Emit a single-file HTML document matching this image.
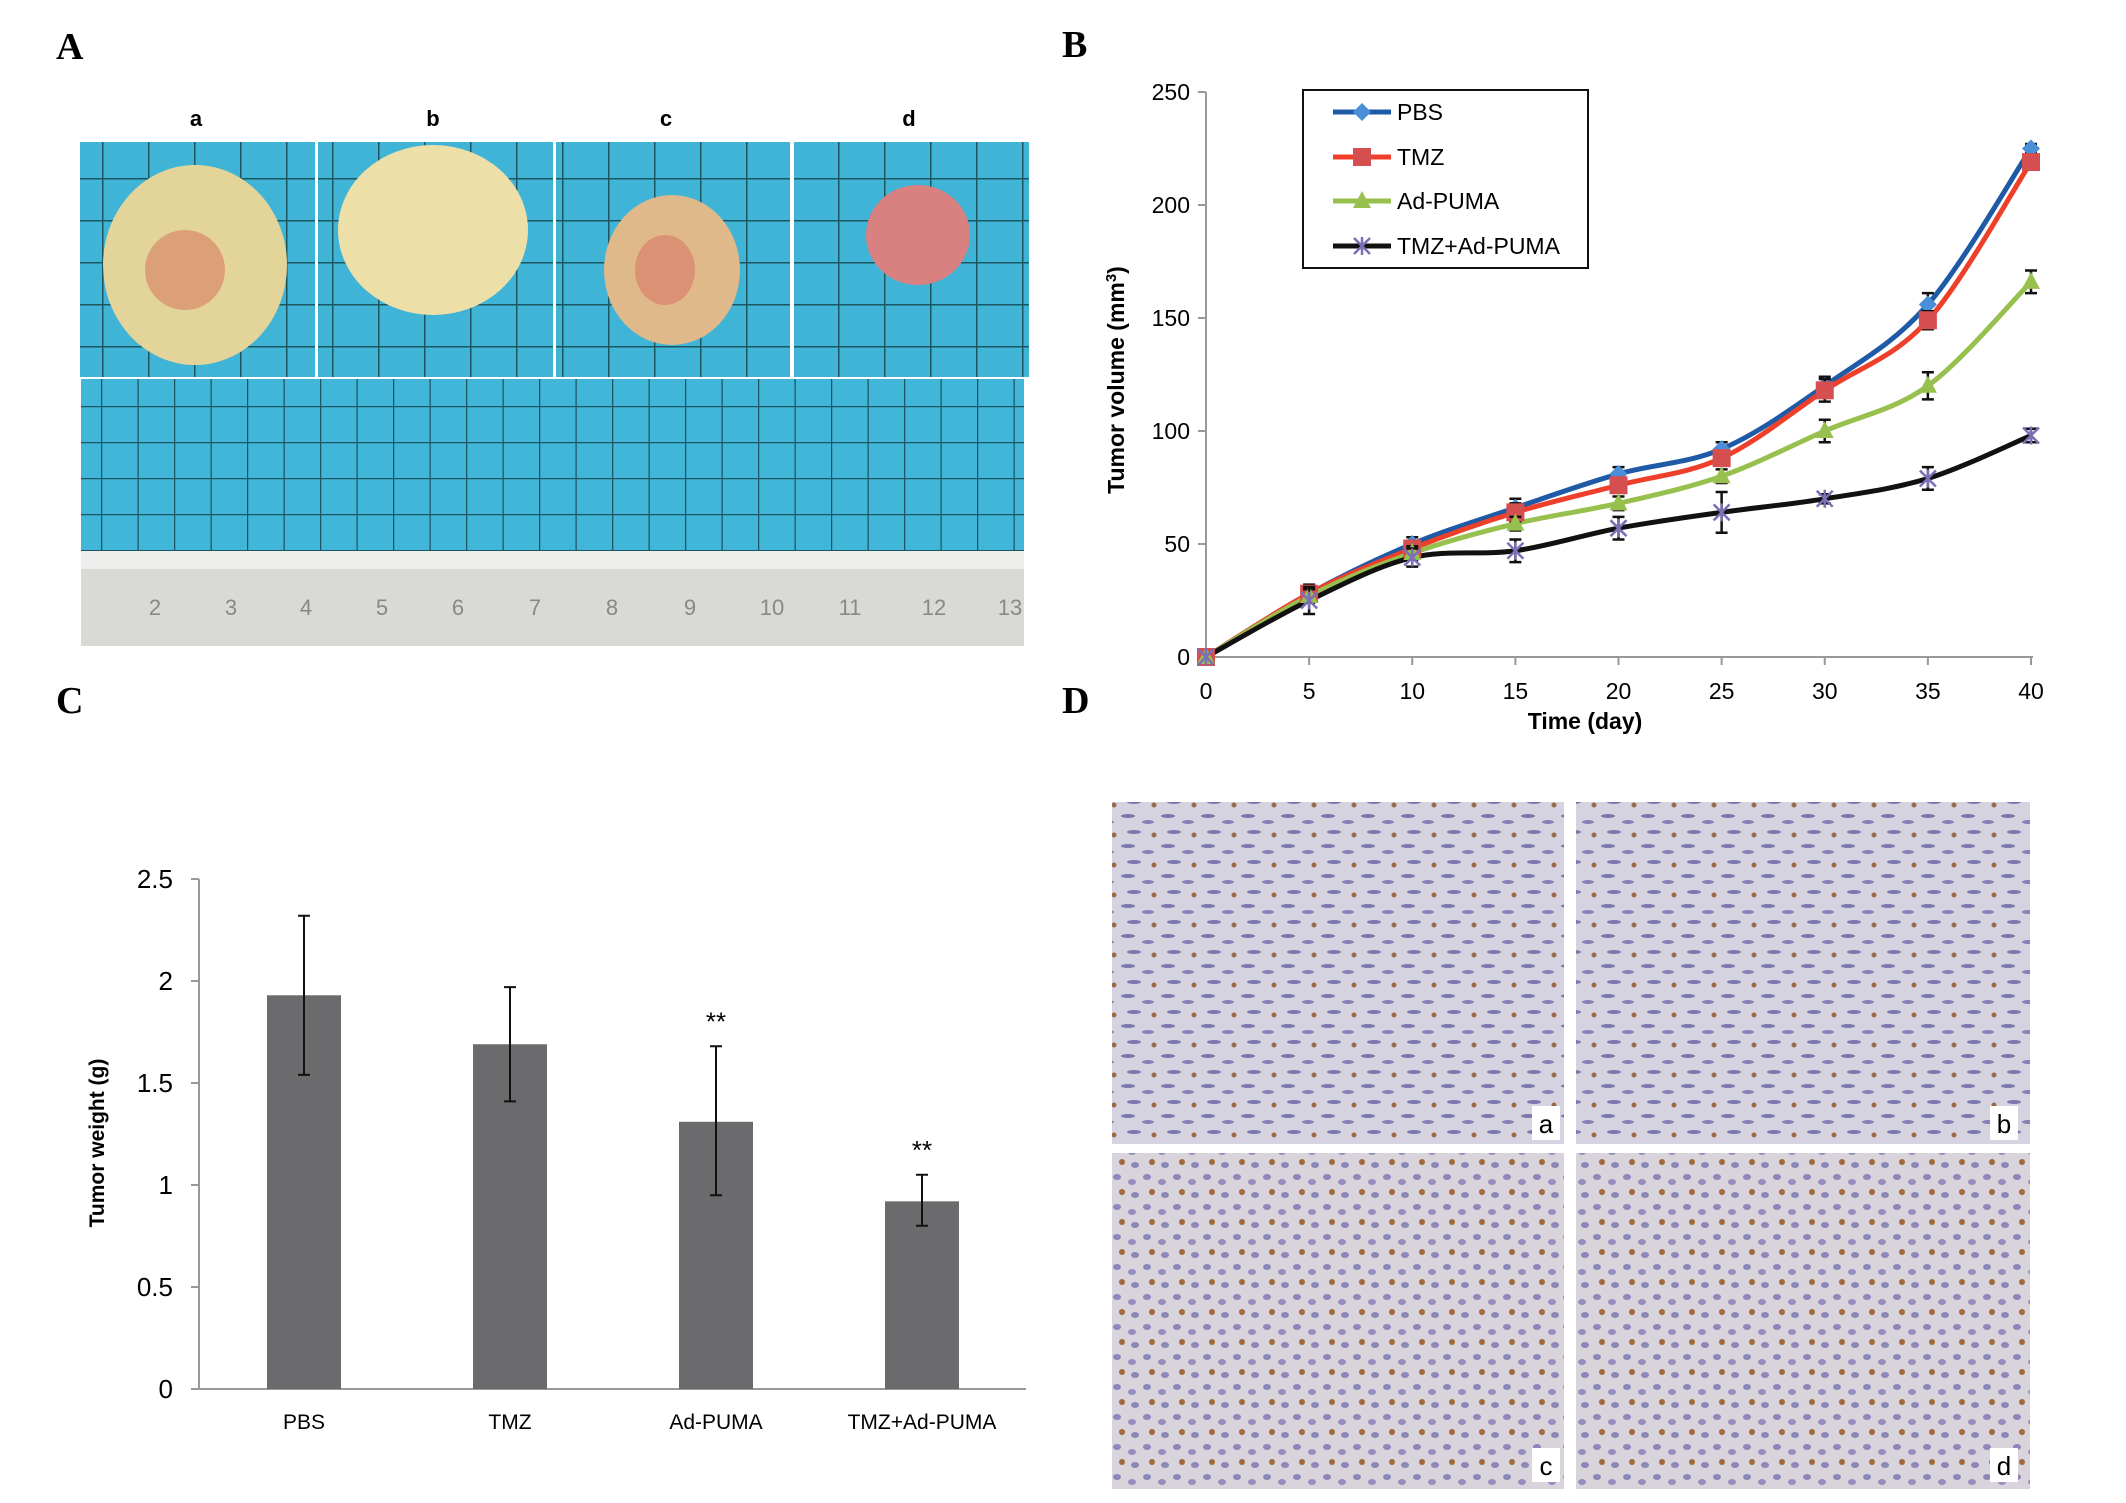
<!DOCTYPE html>
<html><head><meta charset="utf-8">
<style>
html,body{margin:0;padding:0;background:#fff;}
body{width:2126px;height:1503px;position:relative;overflow:hidden;font-family:"Liberation Sans",sans-serif;}
.plabel{position:absolute;font-family:"Liberation Serif",serif;font-weight:bold;font-size:38px;line-height:1;}
svg{position:absolute;left:0;top:0;}
</style></head>
<body>
<div class="plabel" style="left:56px;top:28px;">A</div>
<div class="plabel" style="left:1062px;top:26px;">B</div>
<div class="plabel" style="left:56px;top:682px;">C</div>
<div class="plabel" style="left:1062px;top:682px;">D</div>

<svg width="2126" height="1503" id="main">
<defs>
  <pattern id="grid1" width="46" height="42" patternUnits="userSpaceOnUse" x="10" y="10">
    <rect width="46" height="42" fill="#3fb4d6"/>
    <path d="M0 0 H46 M0 0 V42" stroke="#1d5560" stroke-width="3"/>
  </pattern>
  <pattern id="grid2" width="36.5" height="36" patternUnits="userSpaceOnUse" x="28" y="10">
    <rect width="36.5" height="36" fill="#40b6d8"/>
    <path d="M0 0 H36.5 M0 0 V36" stroke="#1d5560" stroke-width="2.5"/>
  </pattern>
  <pattern id="histo1" width="40" height="30" patternUnits="userSpaceOnUse">
    <rect width="40" height="30" fill="#d6d3e0"/>
    <ellipse cx="8" cy="6" rx="7" ry="2" fill="#7b78b0"/>
    <ellipse cx="28" cy="12" rx="6" ry="2" fill="#8582b8"/>
    <ellipse cx="14" cy="22" rx="7" ry="2" fill="#7b78b0"/>
    <circle cx="34" cy="25" r="2.5" fill="#9a6a48"/>
  </pattern>
  <pattern id="histo2" width="30" height="30" patternUnits="userSpaceOnUse">
    <rect width="30" height="30" fill="#d9d3dc"/>
    <ellipse cx="7" cy="7" rx="4" ry="3" fill="#8b87b8"/>
    <ellipse cx="22" cy="12" rx="4" ry="3" fill="#958fc0"/>
    <circle cx="12" cy="22" r="3" fill="#a06a3c"/>
    <ellipse cx="25" cy="25" rx="4" ry="3" fill="#8b87b8"/>
  </pattern>
</defs>

<g>
  <text x="196" y="126" font-size="22" font-weight="bold" text-anchor="middle">a</text>
  <text x="433" y="126" font-size="22" font-weight="bold" text-anchor="middle">b</text>
  <text x="666" y="126" font-size="22" font-weight="bold" text-anchor="middle">c</text>
  <text x="909" y="126" font-size="22" font-weight="bold" text-anchor="middle">d</text>
  <rect x="80" y="142" width="235" height="235" fill="url(#grid1)"/>
  <rect x="318" y="142" width="235" height="235" fill="url(#grid1)"/>
  <rect x="556" y="142" width="234" height="235" fill="url(#grid1)"/>
  <rect x="794" y="142" width="235" height="235" fill="url(#grid1)"/>
  <ellipse cx="195" cy="265" rx="92" ry="100" fill="#e3d49a"/>
  <ellipse cx="185" cy="270" rx="40" ry="40" fill="#d98a6a" opacity="0.7"/>
  <ellipse cx="433" cy="230" rx="95" ry="85" fill="#ecdfa8"/>
  <ellipse cx="672" cy="270" rx="68" ry="75" fill="#e0b98a"/>
  <ellipse cx="665" cy="270" rx="30" ry="35" fill="#d9806a" opacity="0.7"/>
  <ellipse cx="918" cy="235" rx="52" ry="50" fill="#d98080"/>
  <rect x="81" y="379" width="943" height="172" fill="url(#grid2)"/>
  <rect x="81" y="551" width="943" height="95" fill="#d9d9d6"/>
  <rect x="81" y="551" width="943" height="18" fill="#eeeeec"/>
  <g font-size="22" fill="#888" text-anchor="middle">
    <text x="155" y="615">2</text><text x="231" y="615">3</text><text x="306" y="615">4</text><text x="382" y="615">5</text><text x="458" y="615">6</text><text x="535" y="615">7</text><text x="612" y="615">8</text><text x="690" y="615">9</text><text x="772" y="615">10</text><text x="850" y="615">11</text><text x="934" y="615">12</text><text x="1010" y="615">13</text>
  </g>
</g>

<g>
  <rect x="1112" y="802" width="452" height="342" fill="url(#histo1)"/>
  <rect x="1576" y="802" width="454" height="342" fill="url(#histo1)"/>
  <rect x="1112" y="1153" width="452" height="336" fill="url(#histo2)"/>
  <rect x="1576" y="1153" width="454" height="336" fill="url(#histo2)"/>
  <g font-size="26" text-anchor="middle">
    <rect x="1532" y="1106" width="28" height="34" fill="#fff"/><text x="1546" y="1133">a</text>
    <rect x="1990" y="1106" width="28" height="34" fill="#fff"/><text x="2004" y="1133">b</text>
    <rect x="1532" y="1448" width="28" height="34" fill="#fff"/><text x="1546" y="1475">c</text>
    <rect x="1990" y="1448" width="28" height="34" fill="#fff"/><text x="2004" y="1475">d</text>
  </g>
</g>

<g id="lineChart"></g>
<g id="barChart"></g>
</svg>

<script>
// ---- Panel B data ----
const days = [0,5,10,15,20,25,30,35,40];
const pbsVals = [0,28,50,66,81,92,120,156,225];
const tmzVals = [0,28,48,64,76,88,118,149,219];
const adVals = [0,27,46,59,68,80,100,120,166];
const comboVals = [0,25,44,47,57,64,70,79,98];
const pbsErr = [0,4,3,4,3,3,4,5,2];
const tmzErr = [0,3,3,4,3,3,5,4,3];
const adErr = [0,3,3,3,3,3,5,6,5];
const comboErr = [0,6,4,5,5,9,2,5,3];
const yTicksB = [0,50,100,150,200,250];
const xTicksB = [0,5,10,15,20,25,30,35,40];
const seriesNames = ["PBS","TMZ","Ad-PUMA","TMZ+Ad-PUMA"];

// ---- Panel C data ----
const groups = ["PBS","TMZ","Ad-PUMA","TMZ+Ad-PUMA"];
const weights = [1.93,1.69,1.31,0.92];
const weightHi = [2.32,1.97,1.68,1.05];
const weightLo = [1.54,1.41,0.95,0.80];
const signif = ["","","**","**"];
const yTicksC = [0,0.5,1,1.5,2,2.5];

const NS = "http://www.w3.org/2000/svg";
function mk(tag, attrs, parent){const e=document.createElementNS(NS,tag);for(const k in attrs)e.setAttribute(k,attrs[k]);parent.appendChild(e);return e;}

(function(){
  const g = document.getElementById('lineChart');
  const X0=1206, X1=2031, Y0=657, Y1=92;
  const xs = d => X0 + (d-0)/(40-0)*(X1-X0);
  const ys = v => Y0 - v/250*(Y0-Y1);
  const ax = mk('path',{d:`M${X0} ${Y1} V${Y0} H${X1+2}`,stroke:'#999',fill:'none','stroke-width':2},g);
  
  
  yTicksB.forEach(t=>{
    mk('line',{x1:X0-8,x2:X0,y1:ys(t),y2:ys(t),stroke:'#999','stroke-width':2},g);
    const tx=mk('text',{x:X0-16,y:ys(t)+8,'font-size':23,'text-anchor':'end'},g);
    tx.textContent=t;
    
    
  });
  xTicksB.forEach(t=>{
    mk('line',{x1:xs(t),x2:xs(t),y1:Y0,y2:Y0+8,stroke:'#999','stroke-width':2},g);
    const tx=mk('text',{x:xs(t),y:699,'font-size':23,'text-anchor':'middle'},g);
    tx.textContent=t;
    
    
  });
  const yt=mk('text',{x:0,y:0,'font-size':23,'font-weight':'bold','text-anchor':'middle',transform:`translate(1124 380) rotate(-90)`},g);
  yt.innerHTML='Tumor volume (mm<tspan baseline-shift="super" font-size="15">3</tspan>)';
  
  
  const xt=mk('text',{x:1585,y:729,'font-size':23,'font-weight':'bold','text-anchor':'middle'},g);
  xt.textContent='Time (day)';
  
  

  function smooth(pts){
    let d=`M${pts[0][0]} ${pts[0][1]}`;
    for(let i=0;i<pts.length-1;i++){
      const p0=pts[i-1]||pts[i],p1=pts[i],p2=pts[i+1],p3=pts[i+2]||p2;
      const c1=[p1[0]+(p2[0]-p0[0])/6,p1[1]+(p2[1]-p0[1])/6];
      const c2=[p2[0]-(p3[0]-p1[0])/6,p2[1]-(p3[1]-p1[1])/6];
      d+=` C${c1[0]} ${c1[1]} ${c2[0]} ${c2[1]} ${p2[0]} ${p2[1]}`;
    }
    return d;
  }
  const series=[
    {vals:pbsVals,err:pbsErr,line:'#1f5aa6',mk:'#4a8fd8',shape:'diamond',name:'pbs'},
    {vals:tmzVals,err:tmzErr,line:'#ee3f2a',mk:'#d64f50',shape:'square',name:'tmz'},
    {vals:adVals,err:adErr,line:'#98c04e',mk:'#98c04e',shape:'triangle',name:'ad-puma'},
    {vals:comboVals,err:comboErr,line:'#111',mk:'#7b6fb6',shape:'x',name:'tmz-ad-puma'}
  ];
  function marker(shape,x,y,c,parent){
    let e;
    if(shape==='diamond') e=mk('path',{d:`M${x} ${y-9} L${x+9} ${y} L${x} ${y+9} L${x-9} ${y}Z`,fill:c},parent);
    else if(shape==='square') e=mk('rect',{x:x-9,y:y-9,width:18,height:18,fill:c},parent);
    else if(shape==='triangle') e=mk('path',{d:`M${x} ${y-10} L${x+9} ${y+7} L${x-9} ${y+7}Z`,fill:c},parent);
    else e=mk('path',{d:`M${x-8} ${y-8} L${x+8} ${y+8} M${x+8} ${y-8} L${x-8} ${y+8} M${x} ${y-9} V${y+9}`,stroke:c,'stroke-width':2.5,fill:'none'},parent);
    return e;
  }
  series.forEach(s=>{
    const pts=days.map((d,i)=>[xs(d),ys(s.vals[i])]);
    const p=mk('path',{d:smooth(pts),stroke:s.line,'stroke-width':5,fill:'none'},g);
    
    
  });
  series.forEach(s=>{
    days.forEach((d,i)=>{
      const x=xs(d);
      if(s.err[i]>0){
        const eb=mk('path',{d:`M${x} ${ys(s.vals[i]+s.err[i])} V${ys(s.vals[i]-s.err[i])} M${x-6} ${ys(s.vals[i]+s.err[i])} H${x+6} M${x-6} ${ys(s.vals[i]-s.err[i])} H${x+6}`,stroke:'#111','stroke-width':2.5,fill:'none'},g);
        
        
      }
      const m=marker(s.shape,x,ys(s.vals[i]),s.mk,g);
      
      
    });
  });
  const lg=mk('g',{},g);
  
  
  mk('rect',{x:1303,y:90,width:285,height:178,fill:'#fff',stroke:'#111','stroke-width':2},lg);
  const ly=[112,157,201,246];
  series.forEach((s,i)=>{
    const le=mk('g',{},lg);
    
    
    mk('line',{x1:1333,x2:1391,y1:ly[i],y2:ly[i],stroke:s.line,'stroke-width':5},le);
    marker(s.shape,1362,ly[i],s.mk,le);
    const t=mk('text',{x:1397,y:ly[i]+8,'font-size':23},le);
    t.textContent=seriesNames[i];
  });
})();

(function(){
  const g=document.getElementById('barChart');
  const X0=199, X1=1026, Y0=1389, Y1=879;
  const ys=v=>Y0 - v/2.5*(Y0-Y1);
  const band=206;
  const cx=i=>304+band*i;
  const bw=74;
  const ax=mk('path',{d:`M${X0} ${Y1} V${Y0} H${X1}`,stroke:'#999',fill:'none','stroke-width':2},g);
  
  
  yTicksC.forEach(t=>{
    mk('line',{x1:X0-8,x2:X0,y1:ys(t),y2:ys(t),stroke:'#999','stroke-width':2},g);
    const tx=mk('text',{x:X0-26,y:ys(t)+9,'font-size':26,'text-anchor':'end'},g);
    tx.textContent=t;
    
    
  });
  groups.forEach((n,i)=>{
    const r=mk('rect',{x:cx(i)-bw/2,y:ys(weights[i]),width:bw,height:ys(0)-ys(weights[i]),fill:'#6b6b6e'},g);
    
    
    const x=cx(i);
    const eb=mk('path',{d:`M${x} ${ys(weightHi[i])} V${ys(weightLo[i])} M${x-6} ${ys(weightHi[i])} H${x+6} M${x-6} ${ys(weightLo[i])} H${x+6}`,stroke:'#111','stroke-width':2,fill:'none'},g);
    
    
    if(signif[i]){
      const s=mk('text',{x:x,y:ys(weightHi[i])-16,'font-size':26,'text-anchor':'middle'},g);
      s.textContent=signif[i];
      
      
    }
    const l=mk('text',{x:x,y:1429,'font-size':21,'text-anchor':'middle'},g);
    l.textContent=n;
    
    
  });
  const yt=mk('text',{x:0,y:0,'font-size':21,'font-weight':'bold','text-anchor':'middle',transform:'translate(104 1143) rotate(-90)'},g);
  yt.textContent='Tumor weight (g)';
  
  
})();
</script>
</body></html>
